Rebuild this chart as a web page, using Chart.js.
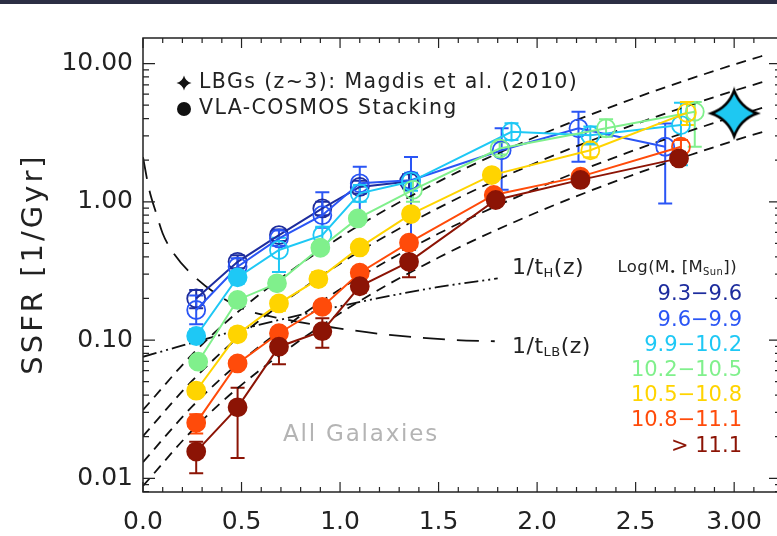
<!DOCTYPE html>
<html lang="en">
<head>
  <meta charset="UTF-8">
  <title>SSFR vs redshift</title>
  <style>
    html, body { margin: 0; padding: 0; background: #fff; }
    #wrap { width: 777px; height: 536px; }
  </style>
</head>
<body>
  <div id="wrap"><canvas id="myChart"></canvas></div>
  <script src="https://cdn.jsdelivr.net/npm/chart.js"></script>
  <script>
const FONT = "'DejaVu Sans', sans-serif";

// axis ticks
const xTicks = [0, 0.5, 1.0, 1.5, 2.0, 2.5, 3.0];
const xTickLabels = ['0.0', '0.5', '1.0', '1.5', '2.0', '2.5', '3.00'];
const yTicks = [0.01, 0.1, 1, 10];
const yTickLabels = ['0.01', '0.10', '1.00', '10.00'];

// mass bins, Log(M* [Msun])
const massBins = ['9.3\u22129.6', '9.6\u22129.9', '9.9\u221210.2', '10.2\u221210.5', '10.5\u221210.8', '10.8\u221211.1', '> 11.1'];
const binColors = ['#1e2d9e', '#2a55f5', '#1ec8f5', '#80f08c', '#ffd400', '#ff4b0a', '#8c1405'];

// stacked SSFR per bin (redshift, value, error low, error high, filled marker)
const zBin1 = [0.27, 0.48, 0.69, 0.91, 1.10, 1.35];
const ssfrBin1 = [0.200, 0.368, 0.574, 0.896, 1.28, 1.40];
const loBin1 = [0.17, 0.33, 0.52, 0.80, 1.15, 1.25];
const hiBin1 = [0.23, 0.41, 0.63, 1.00, 1.42, 1.58];
const fillBin1 = [0, 0, 0, 0, 0, 0];

const zBin2 = [0.27, 0.48, 0.69, 0.91, 1.10, 1.36, 1.82, 2.21, 2.65];
const ssfrBin2 = [0.165, 0.339, 0.543, 0.80, 1.36, 1.43, 2.36, 3.40, 2.50];
const loBin2 = [0.13, 0.30, 0.48, 0.65, 0.72, 0.54, 1.22, 1.95, 0.97];
const hiBin2 = [0.21, 0.39, 0.62, 1.17, 1.79, 2.11, 3.40, 4.48, 3.69];
const fillBin2 = [0, 0, 0, 0, 0, 0, 0, 0, 0];

const zBin3 = [0.27, 0.48, 0.69, 0.91, 1.10, 1.36, 1.87, 2.27, 2.73];
const ssfrBin3 = [0.107, 0.284, 0.448, 0.574, 1.15, 1.40, 3.21, 3.03, 3.59];
const loBin3 = [0.095, 0.255, 0.31, 0.50, 1.00, 1.20, 2.80, 2.60, 1.84];
const hiBin3 = [0.12, 0.31, 0.55, 0.66, 1.32, 1.62, 3.70, 3.50, 5.20];
const fillBin3 = [1, 1, 0, 0, 0, 0, 0, 0, 0];

const zBin4 = [0.28, 0.48, 0.68, 0.90, 1.09, 1.37, 1.81, 2.35, 2.80];
const ssfrBin4 = [0.0697, 0.195, 0.257, 0.465, 0.758, 1.22, 2.43, 3.40, 4.48];
const loBin4 = [0.064, 0.18, 0.237, 0.43, 0.70, 1.00, 2.20, 2.95, 2.50];
const hiBin4 = [0.076, 0.21, 0.28, 0.50, 0.82, 1.42, 2.70, 3.95, 5.28];
const fillBin4 = [1, 1, 1, 1, 1, 0, 0, 0, 0];

const zBin5 = [0.27, 0.48, 0.69, 0.89, 1.10, 1.36, 1.77, 2.27, 2.76];
const ssfrBin5 = [0.043, 0.110, 0.184, 0.276, 0.468, 0.815, 1.56, 2.36, 4.40];
const loBin5 = [0.040, 0.10, 0.163, 0.25, 0.43, 0.75, 1.45, 2.10, 3.60];
const hiBin5 = [0.047, 0.122, 0.20, 0.31, 0.51, 0.88, 1.68, 2.65, 5.28];
const fillBin5 = [1, 1, 1, 1, 1, 1, 1, 0, 0];

const zBin6 = [0.27, 0.48, 0.69, 0.91, 1.10, 1.35, 1.78, 2.22, 2.73];
const ssfrBin6 = [0.0252, 0.0678, 0.112, 0.174, 0.307, 0.506, 1.12, 1.52, 2.50];
const loBin6 = [0.0211, 0.062, 0.103, 0.160, 0.285, 0.47, 1.05, 1.42, 2.25];
const hiBin6 = [0.029, 0.074, 0.122, 0.19, 0.33, 0.55, 1.19, 1.62, 2.80];
const fillBin6 = [1, 1, 1, 1, 1, 1, 1, 1, 0];

const zBin7 = [0.27, 0.48, 0.69, 0.91, 1.10, 1.35, 1.79, 2.22, 2.72];
const ssfrBin7 = [0.0156, 0.0326, 0.0895, 0.116, 0.245, 0.368, 1.03, 1.44, 2.06];
const loBin7 = [0.0109, 0.0140, 0.0667, 0.088, 0.22, 0.284, 0.95, 1.33, 1.85];
const hiBin7 = [0.0184, 0.0452, 0.11, 0.144, 0.27, 0.45, 1.12, 1.56, 2.30];
const fillBin7 = [1, 1, 1, 1, 1, 1, 1, 1, 1];

// LBGs z~3 (Magdis et al. 2010)
const zLBG = [3.0];
const ssfrLBG = [4.36];

// dashed model tracks
const modelZ = [0, 0.25, 0.5, 1.0, 1.5, 2.0, 2.5, 3.0, 3.2];
const trackA = [0.0312, 0.0787, 0.168, 0.553, 1.40, 2.98, 5.65, 9.84, 12.0];
const trackB = [0.0202, 0.0508, 0.109, 0.357, 0.904, 1.93, 3.65, 6.36, 7.75];
const trackC = [0.0131, 0.0331, 0.0707, 0.233, 0.589, 1.25, 2.38, 4.14, 5.05];
const trackD = [0.0088, 0.0222, 0.0474, 0.156, 0.395, 0.840, 1.59, 2.77, 3.38];

// 1/t_H(z) and 1/t_LB(z)
const zHubble = [0, 0.485, 0.985, 1.485, 1.80];
const invHubble = [0.0757, 0.118, 0.174, 0.240, 0.279];
const zLookback = [0.0, 0.03, 0.07, 0.1, 0.135, 0.235, 0.485, 0.735, 0.985, 1.25, 1.585, 1.785];
const invLookback = [2.1, 1.25, 0.80, 0.59, 0.47, 0.312, 0.174, 0.140, 0.122, 0.109, 0.100, 0.098];

const bins = [
  [zBin1, ssfrBin1, loBin1, hiBin1, fillBin1],
  [zBin2, ssfrBin2, loBin2, hiBin2, fillBin2],
  [zBin3, ssfrBin3, loBin3, hiBin3, fillBin3],
  [zBin4, ssfrBin4, loBin4, hiBin4, fillBin4],
  [zBin5, ssfrBin5, loBin5, hiBin5, fillBin5],
  [zBin6, ssfrBin6, loBin6, hiBin6, fillBin6],
  [zBin7, ssfrBin7, loBin7, hiBin7, fillBin7]
];

const pts = (xs, ys) => xs.map((x, i) => ({ x: x, y: ys[i] }));

function starPath(ctx, cx, cy, R, r) {
  ctx.beginPath();
  ctx.moveTo(cx, cy - R);
  ctx.quadraticCurveTo(cx + r, cy - r, cx + R, cy);
  ctx.quadraticCurveTo(cx + r, cy + r, cx, cy + R);
  ctx.quadraticCurveTo(cx - r, cy + r, cx - R, cy);
  ctx.quadraticCurveTo(cx - r, cy - r, cx, cy - R);
  ctx.closePath();
}

// star marker for the LBG point
const starImg = document.createElement('canvas');
starImg.width = 54; starImg.height = 54;
(function () {
  const c = starImg.getContext('2d');
  starPath(c, 27, 27, 23, 6);
  c.fillStyle = '#1ec8f2';
  c.fill();
  c.lineWidth = 2.5;
  c.strokeStyle = '#000';
  c.stroke();
})();

function richText(ctx, parts, x, y, align) {
  let w = 0;
  parts.forEach(p => { ctx.font = p[1] + 'px ' + FONT; w += ctx.measureText(p[0]).width; });
  let cx = align === 'right' ? x - w : x;
  parts.forEach(p => {
    ctx.font = p[1] + 'px ' + FONT;
    ctx.fillText(p[0], cx, y + (p[2] || 0));
    cx += ctx.measureText(p[0]).width;
  });
}

const datasets = [];

bins.forEach((b, i) => {
  datasets.push({
    data: pts(b[0], b[1]),
    borderColor: binColors[i],
    borderWidth: 2,
    pointRadius: 9,
    pointBorderWidth: 1.8,
    pointBorderColor: binColors[i],
    pointBackgroundColor: b[4].map(f => f ? binColors[i] : 'rgba(0,0,0,0)'),
    order: 7 - i
  });
});

datasets.push({
  data: pts(zLBG, ssfrLBG),
  showLine: false,
  pointStyle: starImg,
  order: 0
});

[trackA, trackB, trackC, trackD].forEach(t => {
  datasets.push({
    data: pts(modelZ, t),
    borderColor: '#111',
    borderWidth: 1.8,
    borderDash: [10, 7],
    pointRadius: 0,
    cubicInterpolationMode: 'monotone',
    order: 10
  });
});

datasets.push({
  data: pts(zHubble, invHubble),
  borderColor: '#111',
  borderWidth: 1.8,
  borderDash: [14, 4, 2, 4, 2, 4],
  pointRadius: 0,
  cubicInterpolationMode: 'monotone',
  order: 10
});

datasets.push({
  data: pts(zLookback, invLookback),
  borderColor: '#111',
  borderWidth: 1.8,
  borderDash: [22, 12],
  pointRadius: 0,
  cubicInterpolationMode: 'monotone',
  order: 10
});

const decor = {
  id: 'decor',
  beforeDraw(chart) {
    const ctx = chart.ctx;
    ctx.save();
    ctx.fillStyle = '#fff';
    ctx.fillRect(0, 0, chart.width, chart.height);
    ctx.fillStyle = '#2c2e44';
    ctx.fillRect(0, 0, chart.width, 4);
    ctx.restore();
  },
  beforeDatasetsDraw(chart) {
    // error bars
    const ctx = chart.ctx, xs = chart.scales.x, ys = chart.scales.y;
    ctx.save();
    ctx.lineWidth = 2;
    bins.forEach((b, i) => {
      ctx.strokeStyle = binColors[i];
      b[0].forEach((z, j) => {
        const x = xs.getPixelForValue(z);
        const y1 = ys.getPixelForValue(b[2][j]);
        const y2 = ys.getPixelForValue(b[3][j]);
        ctx.beginPath();
        ctx.moveTo(x, y1); ctx.lineTo(x, y2);
        ctx.moveTo(x - 7, y1); ctx.lineTo(x + 7, y1);
        ctx.moveTo(x - 7, y2); ctx.lineTo(x + 7, y2);
        ctx.stroke();
      });
    });
    ctx.restore();
  },
  afterDraw(chart) {
    const ctx = chart.ctx, xs = chart.scales.x, ys = chart.scales.y;
    const a = chart.chartArea;
    const L = a.left, T = a.top, B = a.bottom, R = 781;
    ctx.save();
    ctx.strokeStyle = '#222';
    ctx.lineWidth = 1.5;
    ctx.strokeRect(L, T, R - L, B - T);

    // inward ticks
    ctx.lineWidth = 1.2;
    ctx.beginPath();
    for (let i = 0; i <= 31; i++) {
      const x = xs.getPixelForValue(i / 10);
      const len = i % 5 === 0 ? 10 : 5;
      ctx.moveTo(x, B); ctx.lineTo(x, B - len);
      ctx.moveTo(x, T); ctx.lineTo(x, T + len);
    }
    for (let d = -3; d <= 1; d++) {
      for (let m = 1; m <= 9; m++) {
        const v = m * Math.pow(10, d);
        if (v < ys.min || v > ys.max) continue;
        const y = ys.getPixelForValue(v);
        const len = m === 1 ? 12 : 6;
        ctx.moveTo(L, y); ctx.lineTo(L + len, y);
        ctx.moveTo(R, y); ctx.lineTo(R - len, y);
      }
    }
    ctx.stroke();

    // y title
    ctx.fillStyle = '#222';
    ctx.textBaseline = 'middle';
    ctx.textAlign = 'center';
    ctx.translate(34, 264);
    ctx.rotate(-Math.PI / 2);
    ctx.font = '29px ' + FONT;
    ctx.letterSpacing = '3px';
    ctx.fillText('SSFR [1/Gyr]', 0, 0);
    ctx.setTransform(1, 0, 0, 1, 0, 0);
    ctx.textAlign = 'left';

    // top-left legend
    starPath(ctx, 184, 83, 7.5, 1.5);
    ctx.fillStyle = '#111';
    ctx.fill();
    ctx.beginPath();
    ctx.arc(184, 109, 7, 0, Math.PI * 2);
    ctx.fill();
    ctx.letterSpacing = '1.4px';
    ctx.font = '20.5px ' + FONT;
    ctx.fillStyle = '#222';
    ctx.fillText('LBGs (z~3): Magdis et al. (2010)', 199, 83);
    ctx.fillText('VLA-COSMOS Stacking', 199, 109);

    // curve labels
    ctx.letterSpacing = '0.5px';
    richText(ctx, [['1/t', 22], ['H', 13, 6], ['(z)', 22]], 512, 268);
    richText(ctx, [['1/t', 22], ['LB', 13, 6], ['(z)', 22]], 512, 347);

    // mass legend
    ctx.letterSpacing = '0.4px';
    richText(ctx, [['Log(M', 16.5], ['\u2022', 10, 4], [' [M', 16.5], ['Sun', 10, 4], ['])', 16.5]], 737, 268, 'right');
    ctx.letterSpacing = '0px';
    ctx.textAlign = 'right';
    ctx.font = '21px ' + FONT;
    massBins.forEach((t, i) => {
      ctx.fillStyle = binColors[i];
      ctx.fillText(t, 742, 295 + i * 25.2);
    });

    ctx.textAlign = 'left';
    ctx.fillStyle = '#b4b4b4';
    ctx.font = '23px ' + FONT;
    ctx.letterSpacing = '1.8px';
    ctx.fillText('All Galaxies', 283, 435);
    ctx.restore();
  }
};

const ctx = document.getElementById('myChart');

new Chart(ctx, {
  type: 'line',
  data: { datasets: datasets },
  options: {
    responsive: true,
    maintainAspectRatio: false,
    animation: false,
    layout: { autoPadding: false, padding: { top: 38, right: 0, left: 0, bottom: 0 } },
    plugins: {
      legend: { display: false },
      tooltip: { enabled: false }
    },
    scales: {
      x: {
        type: 'linear',
        min: 0,
        max: 3.17,
        grid: { display: false, drawTicks: false },
        border: { display: false },
        afterBuildTicks: s => { s.ticks = xTicks.map(v => ({ value: v })); },
        afterFit: s => { s.height = 44; },
        ticks: {
          autoSkip: false,
          maxRotation: 0,
          padding: 15,
          color: '#222',
          font: { family: FONT, size: 25 },
          callback: (v, i) => xTickLabels[i]
        }
      },
      y: {
        type: 'logarithmic',
        min: 0.00796,
        max: 15.3,
        grid: { display: false, drawTicks: false },
        border: { display: false },
        afterBuildTicks: s => { s.ticks = yTicks.map(v => ({ value: v })); },
        afterFit: s => { s.width = 143; },
        ticks: {
          autoSkip: false,
          padding: 10,
          color: '#222',
          font: { family: FONT, size: 25 },
          callback: (v, i) => yTickLabels[i]
        }
      }
    }
  },
  plugins: [decor]
});
  </script>
</body>
</html>
